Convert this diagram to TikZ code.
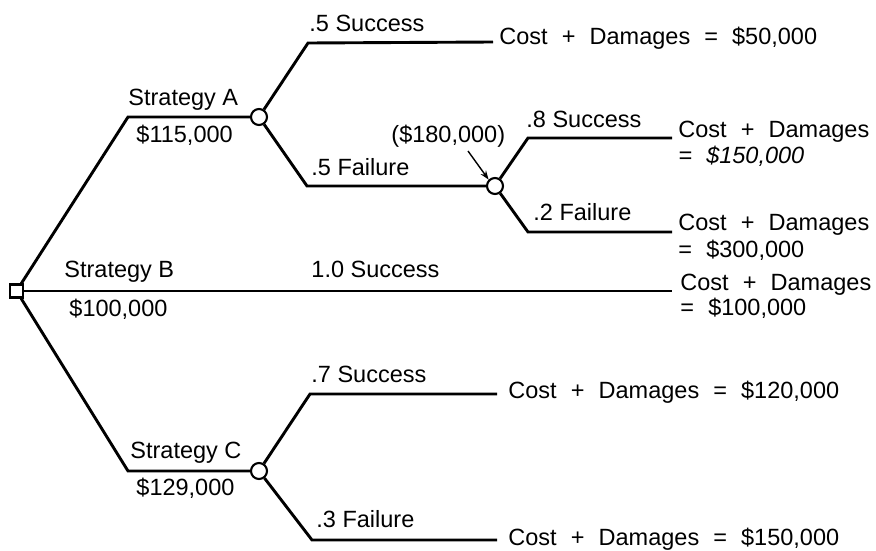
\documentclass[tikz,border=0pt]{standalone}
\usepackage{fontspec}
\setmainfont{Liberation Sans}
\usetikzlibrary{arrows.meta}
\newcommand{\gp}{\hspace{0.6em}}
\begin{document}
\begin{tikzpicture}[x=1pt,y=-1pt, line width=2.9pt,
  lbl/.style={anchor=base west, inner sep=0pt, font=\fontsize{23.5}{28}\selectfont},
  chance/.style={circle, draw, fill=white, line width=2.1pt, minimum size=16pt, inner sep=0pt},
  decision/.style={rectangle, draw, fill=white, line width=2.1pt, minimum size=13pt, inner sep=0pt},
  ptr/.style={line width=1.4pt, -{Stealth[length=9pt,width=6.5pt]}}]
\useasboundingbox (0,0) rectangle (876,551);

% nodes
\node[decision] (sq) at (16.5,291) {};
\node[chance] (cA) at (259,117) {};
\node[chance] (cA2) at (495,186) {};
\node[chance] (cC) at (259,471) {};

% corner coordinates
\coordinate (a1) at (128,117);
\coordinate (a2) at (308,43);
\coordinate (eA1) at (493,42);
\coordinate (a3) at (307,186);
\coordinate (a4) at (528,138);
\coordinate (eA21) at (672,138);
\coordinate (a5) at (528,232);
\coordinate (eA22) at (672,232);
\coordinate (eB) at (672,291);
\coordinate (c1) at (128,471);
\coordinate (c2) at (310,394);
\coordinate (eC1) at (497,394);
\coordinate (c3) at (312,540);
\coordinate (eC2) at (497,540);

% branches
\draw (sq) -- (a1) -- (cA);
\draw (cA) -- (a2) -- (eA1);
\draw (cA) -- (a3) -- (cA2);
\draw (cA2) -- (a4) -- (eA21);
\draw (cA2) -- (a5) -- (eA22);
\draw (sq) -- (eB);
\draw (sq) -- (c1) -- (cC);
\draw (cC) -- (c2) -- (eC1);
\draw (cC) -- (c3) -- (eC2);

% labels
\node[lbl] (tA) at (127,106) {Strategy A};
\node[lbl] (vA) at (135,142) {\$115,000};
\node[lbl] (pA1) at (308,32) {.5 Success};
\node[lbl] (pA2) at (310,175) {.5 Failure};
\node[lbl] (rA1) at (498,45) {Cost\gp+\gp Damages\gp=\gp\$50,000};
\node[lbl] (vA2) at (390,142) {(\$180,000)};
\node[lbl] (pA21) at (525,127) {.8 Success};
\node[lbl] (pA22) at (532,220) {.2 Failure};
\node[lbl] (rA21) at (677,137) {Cost\gp+\gp Damages};
\node[lbl] (rA21b) at (677,163) {\itshape =\gp\$150,000};
\node[lbl] (rA22) at (677,230) {Cost\gp+\gp Damages};
\node[lbl] (rA22b) at (677,257) {=\gp\$300,000};

\node[lbl] (tB) at (63,277) {Strategy B};
\node[lbl] (vB) at (68,316) {\$100,000};
\node[lbl] (pB) at (310,277) {1.0 Success};
\node[lbl] (rB) at (679,290) {Cost\gp+\gp Damages};
\node[lbl] (rBb) at (679,315) {=\gp\$100,000};

\node[lbl] (tC) at (129,458) {Strategy C};
\node[lbl] (vC) at (135,495) {\$129,000};
\node[lbl] (pC1) at (310,382) {.7 Success};
\node[lbl] (pC2) at (315,527) {.3 Failure};
\node[lbl] (rC1) at (507,398) {Cost\gp+\gp Damages\gp=\gp\$120,000};
\node[lbl] (rC2) at (507,545) {Cost\gp+\gp Damages\gp=\gp\$150,000};

% pointer
\coordinate (ps) at (468,151);
\draw[ptr] (ps) -- (cA2.north west);
\end{tikzpicture}
\end{document}
